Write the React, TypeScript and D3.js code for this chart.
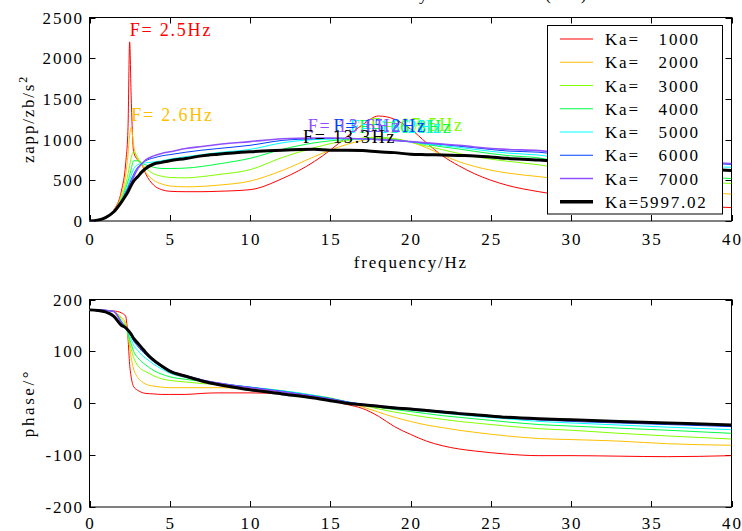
import React from 'react';
import * as d3 from 'd3';

const FREQ = [0, 0.5, 1, 1.5, 2, 2.25, 2.4, 2.5, 2.6, 2.75, 3, 3.25, 3.5, 4, 4.5, 5, 6, 7, 8, 10, 12, 14, 15, 16, 17, 18, 19, 20, 21, 22, 23, 24, 26, 28, 30, 33, 36, 40];

const KA_LABELS = ['1000', '2000', '3000', '4000', '5000', '6000', '7000', '5997.02'];

const magKa1000 = [0, 10, 45, 130, 380, 700, 1150, 2200, 1500, 850, 750, 700, 580, 440, 385, 365, 360, 360, 365, 385, 520, 730, 870, 1030, 1180, 1290, 1250, 1130, 960, 800, 680, 580, 440, 360, 300, 240, 200, 165];
const magKa2000 = [0, 10, 45, 125, 330, 560, 820, 1050, 1150, 930, 760, 690, 600, 500, 455, 430, 420, 425, 440, 490, 620, 790, 870, 940, 990, 1020, 1010, 970, 900, 810, 730, 670, 590, 545, 500, 430, 380, 330];
const magKa3000 = [0, 10, 45, 120, 290, 450, 580, 680, 780, 850, 780, 705, 650, 580, 550, 535, 530, 545, 570, 630, 780, 900, 950, 985, 1020, 1030, 1010, 970, 920, 875, 830, 790, 735, 690, 630, 560, 510, 460];
const magKa4000 = [0, 10, 45, 118, 270, 400, 490, 560, 640, 740, 740, 710, 690, 660, 645, 645, 650, 670, 700, 770, 880, 960, 985, 1000, 1010, 1010, 1000, 975, 940, 910, 885, 855, 805, 775, 700, 630, 580, 520];
const magKa5000 = [0, 10, 45, 116, 255, 370, 440, 500, 560, 640, 690, 710, 715, 725, 740, 760, 790, 815, 840, 880, 960, 1000, 1005, 1010, 1005, 1000, 990, 970, 945, 925, 905, 880, 835, 810, 760, 720, 690, 660];
const magKa6000 = [0, 10, 45, 115, 245, 350, 410, 460, 510, 575, 660, 705, 740, 775, 800, 815, 845, 870, 890, 930, 990, 1010, 1015, 1015, 1010, 1000, 990, 975, 955, 940, 920, 900, 860, 845, 800, 760, 730, 695];
const magKa7000 = [0, 10, 45, 114, 240, 335, 390, 430, 475, 540, 640, 700, 750, 800, 830, 850, 890, 915, 940, 975, 1010, 1020, 1020, 1015, 1010, 1000, 990, 975, 960, 945, 930, 910, 880, 865, 820, 780, 745, 705];
const magKa5997 = [0, 10, 42, 110, 236, 310, 360, 400, 440, 490, 543, 600, 645, 700, 720, 740, 768, 800, 820, 850, 870, 880, 870, 870, 865, 850, 840, 820, 815, 810, 805, 800, 770, 750, 720, 690, 660, 620];

const phKa1000 = [180, 180, 179, 178, 174, 168, 125, 75, 50, 32, 25, 21, 19, 18, 17, 17, 17, 19, 20, 20, 18, 12, 7, -2, -10, -25, -45, -60, -73, -82, -88, -92, -98, -101, -101, -102, -103, -101];
const phKa2000 = [180, 180, 179, 177, 165, 155, 130, 110, 88, 66, 50, 42, 37, 33, 31, 30, 30, 30, 30, 27, 22, 14, 9, 2, -7, -17, -27, -35, -42, -47, -52, -56, -63, -68, -70, -73, -78, -81];
const phKa3000 = [180, 180, 179, 177, 162, 150, 132, 118, 104, 88, 73, 65, 61, 53, 47, 44, 41, 38, 36, 30, 24, 15, 10, 3, -4, -11, -17, -22, -27, -31, -35, -38, -44, -49, -52, -58, -63, -69];
const phKa4000 = [180, 180, 179, 177, 158, 147, 134, 124, 114, 100, 88, 80, 74, 63, 56, 51, 46, 42, 38, 31, 24, 15, 10, 3, -3, -8, -12, -16, -20, -24, -27, -30, -36, -41, -44, -48, -52, -58];
const phKa5000 = [180, 180, 179, 177, 157, 146, 137, 130, 123, 112, 102, 93, 87, 75, 66, 58, 50, 44, 39, 31, 24, 15, 9, 3, -2, -6, -9, -13, -16, -19, -22, -25, -30, -35, -38, -42, -46, -51];
const phKa6000 = [180, 180, 179, 177, 156, 145, 139, 134, 129, 120, 110, 101, 94, 80, 70, 61, 52, 45, 39, 31, 23, 14, 9, 3, -2, -5, -8, -11, -14, -17, -20, -23, -28, -32, -35, -38, -41, -45];
const phKa7000 = [180, 180, 179, 177, 155, 145, 140, 136, 132, 124, 115, 106, 97, 83, 72, 63, 53, 45, 39, 30, 22, 13, 8, 2, -2, -5, -8, -11, -13, -16, -19, -22, -27, -31, -33, -36, -39, -42];
const phKa5997 = [180, 179, 176, 168, 150, 146, 141, 137, 133, 125, 116, 107, 98, 83, 72, 62, 52, 43, 36, 26, 18, 10, 5, 0, -3, -6, -9, -11, -14, -17, -20, -22, -27, -30, -32, -35, -38, -42];

const PEAK_FREQ = [2.5, 2.6, 17.5, 16.8, 16.2, 15.2, 13.6, 13.3];

const X_TICKS = [0, 5, 10, 15, 20, 25, 30, 35, 40];
const MAG_TICKS = [0, 500, 1000, 1500, 2000, 2500];
const PH_TICKS = [-200, -100, 0, 100, 200];

const MAGS = [magKa1000, magKa2000, magKa3000, magKa4000, magKa5000, magKa6000, magKa7000, magKa5997];
const PHS = [phKa1000, phKa2000, phKa3000, phKa4000, phKa5000, phKa6000, phKa7000, phKa5997];
const COLORS = ['#ff0000', '#ffbf00', '#80ff00', '#00ff40', '#00ffff', '#0040ff', '#9050ff', '#000000'];
const WIDTHS = [1, 1, 1, 1, 1, 1, 1.6, 3];

const FONT = "'Liberation Serif','Times New Roman',serif";
const LS = 1.8;

function Txt({ x, y, children, anchor = 'start', fill = '#000', size = 17, ls = LS, rotate = 0 }: any) {
  let dx = 0;
  if (anchor === 'end') dx = ls;
  if (anchor === 'middle') dx = ls / 2;
  return (
    <text
      transform={`translate(${x + (rotate ? 0 : dx)},${y + (rotate ? -dx : 0)}) rotate(${rotate})`}
      textAnchor={anchor}
      fontFamily={FONT}
      fontSize={size}
      letterSpacing={ls}
      fill={fill}
    >
      {children}
    </text>
  );
}

export default function App() {
  const xL = 89.5, xR = 731.5;
  const x = d3.scaleLinear().domain([0, 40]).range([xL, xR]);
  const yM = d3.scaleLinear().domain([0, 2500]).range([221, 17.5]);
  const yP = d3.scaleLinear().domain([-200, 200]).range([507, 299.5]);
  const T = 6;

  const lineM = d3.line<number>().x((_, i) => x(FREQ[i])).y((d) => yM(d)).curve(d3.curveMonotoneX);
  const lineP = d3.line<number>().x((_, i) => x(FREQ[i])).y((d) => yP(d)).curve(d3.curveMonotoneX);

  const frame = (yTop: number, yBot: number, yScale: any, ticks: number[], key: string, xLabY: number) => (
    <g key={key}>
      <rect x={xL} y={yTop} width={xR - xL} height={yBot - yTop} fill="none" stroke="#000" strokeWidth={1} />
      {X_TICKS.map((t) => (
        <g key={'x' + t}>
          <line x1={Math.round(x(t)) + 0.5} x2={Math.round(x(t)) + 0.5} y1={yBot} y2={yBot - T} stroke="#000" />
          <line x1={Math.round(x(t)) + 0.5} x2={Math.round(x(t)) + 0.5} y1={yTop} y2={yTop + T} stroke="#000" />
          <Txt x={x(t)} y={xLabY} anchor="middle">{String(t)}</Txt>
        </g>
      ))}
      {ticks.map((t) => (
        <g key={'y' + t}>
          <line x1={xL} x2={xL + T} y1={Math.round(yScale(t)) + 0.5} y2={Math.round(yScale(t)) + 0.5} stroke="#000" />
          <line x1={xR} x2={xR - T} y1={Math.round(yScale(t)) + 0.5} y2={Math.round(yScale(t)) + 0.5} stroke="#000" />
          <Txt x={82} y={yScale(t) + 6} anchor="end">{String(t)}</Txt>
        </g>
      ))}
    </g>
  );

  const legendY = (i: number) => 39 + i * 23.25;

  return (
    <svg width={742} height={531} style={{ position: 'absolute', left: 0, top: 0, background: '#fff' }}>
      <defs>
        <clipPath id="clipM"><rect x={xL} y={17} width={xR - xL} height={204.5} /></clipPath>
        <clipPath id="clipP"><rect x={xL} y={299} width={xR - xL} height={208.5} /></clipPath>
      </defs>
      <rect x={0} y={0} width={742} height={531} fill="#fff" />
      <Txt x={410} y={0} anchor="middle">Transfer function body acceleration (abs)</Txt>

      {frame(17.5, 221, yM, MAG_TICKS, 'fm', 245)}
      {frame(299.5, 507, yP, PH_TICKS, 'fp', 529)}

      <g clipPath="url(#clipM)">
        {MAGS.map((s, i) => (
          <path key={i} d={lineM(s) || ''} fill="none" stroke={COLORS[i]} strokeWidth={WIDTHS[i]} strokeLinejoin="round" />
        ))}
      </g>
      <g clipPath="url(#clipP)">
        {PHS.map((s, i) => (
          <path key={i} d={lineP(s) || ''} fill="none" stroke={COLORS[i]} strokeWidth={WIDTHS[i]} strokeLinejoin="round" />
        ))}
      </g>

      {MAGS.map((s, i) => (
        <Txt key={'pk' + i} x={x(PEAK_FREQ[i])} y={yM(d3.max(s) as number) - 6} fill={COLORS[i]} size={18}>
          {`F= ${PEAK_FREQ[i].toFixed(1)}Hz`}
        </Txt>
      ))}

      <g>
        <rect x={547.5} y={25.5} width={175} height={188.5} fill="#fff" stroke="#000" strokeWidth={1} />
        {KA_LABELS.map((k, i) => (
          <g key={'lg' + i}>
            <line x1={560} x2={593} y1={legendY(i)} y2={legendY(i)} stroke={COLORS[i]} strokeWidth={i === 7 ? 3.5 : WIDTHS[i]} />
            {i < 7 ? (
              <>
                <Txt x={605} y={legendY(i) + 6}>Ka=</Txt>
                <Txt x={698} y={legendY(i) + 6} anchor="end">{k}</Txt>
              </>
            ) : (
              <Txt x={605} y={legendY(i) + 6}>{`Ka=${k}`}</Txt>
            )}
          </g>
        ))}
      </g>

      <Txt x={410} y={268} anchor="middle">frequency/Hz</Txt>
      <text transform="translate(34,119) rotate(-90)" textAnchor="middle" fontFamily={FONT} fontSize={17} letterSpacing={1.8}>
        zapp/zb/s<tspan dy={-7} fontSize={12}>2</tspan>
      </text>
      <text transform="translate(34,403) rotate(-90)" textAnchor="middle" fontFamily={FONT} fontSize={17} letterSpacing={2.6}>
        phase/°
      </text>
    </svg>
  );
}
